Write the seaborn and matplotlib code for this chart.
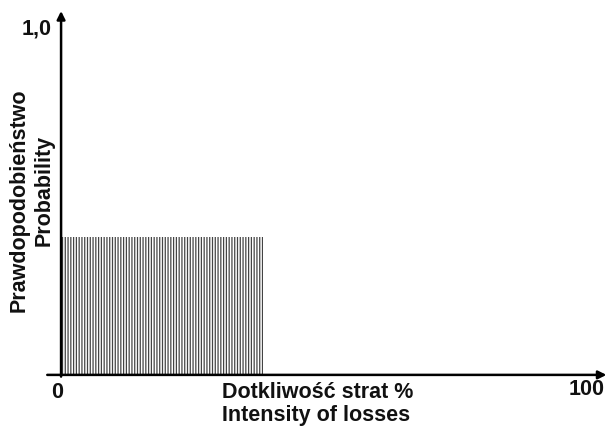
import matplotlib
matplotlib.use('Agg')
import matplotlib.pyplot as plt
import seaborn as sns

# data
loss_from = 0
loss_to = 38
probability = 0.4
x_ticks = [0, 100]
x_tick_labels = ['0', '100']
y_top_label = '1,0'

sns.set_style('white')
plt.rcParams['font.family'] = ['Liberation Sans', 'DejaVu Sans']
plt.rcParams['hatch.linewidth'] = 0.9

fig = plt.figure(figsize=(6.07, 4.28), dpi=100)
ax = fig.add_axes([0, 0, 1, 1])

sns.histplot(x=[(loss_from + loss_to) / 2], weights=[probability],
             bins=[loss_from, loss_to], stat='count', ax=ax,
             facecolor='white', edgecolor='#444444', linewidth=0,
             hatch='|' * 6, alpha=1)

ax.set_xlim(-11.5, 102.8)
ax.set_ylim(-0.154, 1.087)
ax.axis('off')

# axes drawn as arrows
arrow = dict(arrowstyle='-|>', color='black', lw=1.8, mutation_scale=12,
             shrinkA=0, shrinkB=0)
ax.annotate('', xy=(102.7, 0), xytext=(-2.6, 0), arrowprops=arrow)
ax.annotate('', xy=(0, 1.055), xytext=(0, -0.005), arrowprops=arrow)

bold = dict(fontweight='bold', fontsize=15.5, color='#111111')
ax.text(-1.7, 1.003, y_top_label, ha='right', va='center', **bold)
ax.text(x_ticks[0] - 0.75, -0.052, x_tick_labels[0], ha='center', va='center', **bold)
ax.text(x_ticks[1] - 1.0, -0.041, x_tick_labels[1], ha='center', va='center', **bold)

ax.text(30.3, -0.067, 'Dotkliwość strat %', ha='left', va='baseline', **bold)
ax.text(30.3, -0.133, 'Intensity of losses', ha='left', va='baseline', **bold)

ax.text(-7.9, 0.507, 'Prawdopodobieństwo', rotation=90, ha='center', va='center', **bold)
ax.text(-3.2, 0.536, 'Probability', rotation=90, ha='center', va='center', **bold)

fig.savefig('out.png', dpi=100)
